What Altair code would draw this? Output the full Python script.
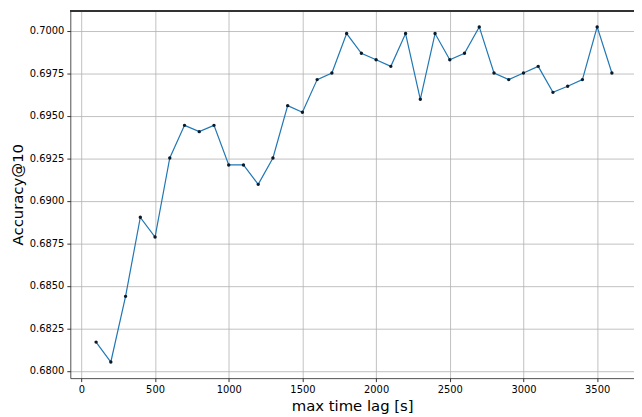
import altair as alt
import pandas as pd

lags = [100, 200, 300, 400, 500, 600, 700, 800, 900, 1000, 1100, 1200,
        1300, 1400, 1500, 1600, 1700, 1800, 1900, 2000, 2100, 2200, 2300, 2400,
        2500, 2600, 2700, 2800, 2900, 3000, 3100, 3200, 3300, 3400, 3500, 3600]
acc = [0.68169, 0.68052, 0.68438, 0.68903, 0.68787, 0.69252, 0.69444, 0.69407,
       0.69444, 0.69211, 0.69211, 0.69097, 0.69252, 0.69560, 0.69521, 0.69713,
       0.69752, 0.69984, 0.69868, 0.69830, 0.69791, 0.69984, 0.69597, 0.69984,
       0.69830, 0.69868, 0.70023, 0.69752, 0.69713, 0.69752, 0.69791, 0.69638,
       0.69674, 0.69713, 0.70023, 0.69752]
x_ticks = [0, 500, 1000, 1500, 2000, 2500, 3000, 3500]
y_ticks = [0.6800, 0.6825, 0.6850, 0.6875, 0.6900, 0.6925, 0.6950, 0.6975, 0.7000]

df = pd.DataFrame({"lag": lags, "acc": acc})

FONT = "DejaVu Sans"

x_enc = alt.X("lag:Q", scale=alt.Scale(domain=[-75, 3750], nice=False, zero=False),
              axis=alt.Axis(values=x_ticks, format="d", title="max time lag [s]",
                            grid=True, gridColor="#b0b0b0", gridWidth=0.8,
                            domainColor="#222222", domainWidth=0.8,
                            tickColor="black", tickSize=3.5, tickWidth=0.8,
                            labelFont=FONT, labelFontSize=10, labelColor="black",
                            labelPadding=3, titleFont=FONT, titleFontSize=15,
                            titleFontWeight="normal", titleColor="black",
                            titlePadding=4))
y_enc = alt.Y("acc:Q", scale=alt.Scale(domain=[0.67957, 0.70121], nice=False, zero=False),
              axis=alt.Axis(values=y_ticks, format=".4f", title="Accuracy@10",
                            grid=True, gridColor="#b0b0b0", gridWidth=0.8,
                            domainColor="#222222", domainWidth=0.8,
                            tickColor="black", tickSize=3.5, tickWidth=0.8,
                            labelFont=FONT, labelFontSize=10, labelColor="black",
                            labelPadding=3, titleFont=FONT, titleFontSize=15,
                            titleFontWeight="normal", titleColor="black",
                            titlePadding=4))

line = alt.Chart(df).mark_line(color="#1f77b4", strokeWidth=1.2).encode(x=x_enc, y=y_enc)
pts = alt.Chart(df).mark_circle(color="#0a1a2a", size=12, opacity=1).encode(x="lag:Q", y="acc:Q")
top = alt.Chart(df).mark_rule(color="#333333", strokeWidth=0.8).encode(
    x=alt.value(0), x2=alt.value(570), y=alt.value(0.5))

chart = alt.layer(line, pts, top).properties(
    width=570, height=372,
    autosize=alt.AutoSizeParams(type="none"),
    padding={"left": 63, "top": 0, "right": 0, "bottom": 36},
).configure_view(stroke=None)

chart.save("out.html", embed_options={"renderer": "svg", "actions": False})
